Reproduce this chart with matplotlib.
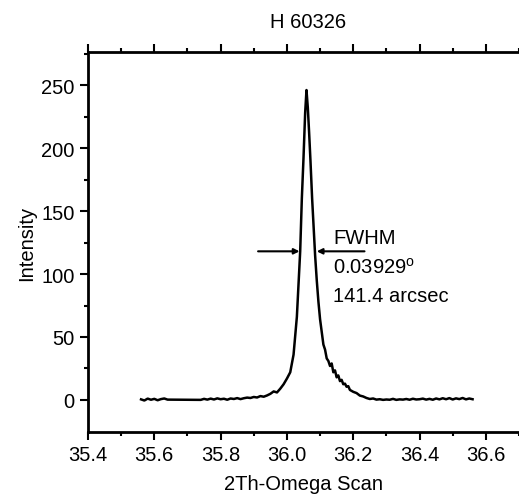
import numpy as np
import matplotlib.pyplot as plt
from matplotlib import rcParams
rcParams.update({"font.family": ["Liberation Sans", "DejaVu Sans"], "font.size": 14.5})

# scan position (2theta, deg) and intensity
two_theta = [
    35.56, 35.57, 35.58, 35.59, 35.60, 35.61, 35.62, 35.63, 35.64,
    35.74,
    35.75, 35.76, 35.77, 35.78, 35.79, 35.80, 35.81, 35.82, 35.83, 35.84,
    35.85, 35.86, 35.87, 35.88, 35.89, 35.90, 35.91, 35.92, 35.93,
    35.94, 35.95, 35.96, 35.97, 35.98, 35.99, 36.00, 36.01, 36.02, 36.03,
    36.04, 36.045, 36.05, 36.055, 36.059, 36.063, 36.067, 36.071, 36.076,
    36.08, 36.085, 36.09, 36.095, 36.10, 36.105, 36.11, 36.115, 36.12,
    36.125, 36.13, 36.135, 36.14, 36.145, 36.15, 36.155, 36.16, 36.165,
    36.17, 36.175, 36.18, 36.185, 36.19, 36.20, 36.21, 36.22, 36.23,
    36.24, 36.25,
    36.26, 36.27, 36.28, 36.29, 36.30, 36.31, 36.32, 36.33, 36.34, 36.35,
    36.36, 36.37, 36.38, 36.39, 36.40, 36.41, 36.42, 36.43, 36.44, 36.45,
    36.46, 36.47, 36.48, 36.49, 36.50, 36.51, 36.52, 36.53, 36.54, 36.55,
    36.56,
]
intensity = [
    0.5, -0.4, 1.1, 0.2, 0.9, -0.2, 0.7, 1.2, 0.3,
    0.1,
    0.9, 0.3, 1.1, 0.4, 1.3, 0.6, 1.0, 0.2, 1.2, 0.8,
    1.5, 0.7, 1.4, 1.9, 1.6, 2.4, 2.0, 3.1, 2.6,
    3.6, 4.9, 6.8, 6.0, 9.0, 12.5, 17.0, 22.0, 36.0, 66.0,
    118.0, 160.0, 192.0, 228.0, 246.0, 232.0, 212.0, 190.0, 160.0,
    140.0, 115.0, 95.0, 78.0, 64.0, 54.0, 44.0, 40.0, 33.0,
    31.0, 27.0, 29.0, 22.0, 23.5, 18.0, 19.5, 15.0, 16.0,
    12.5, 13.0, 10.5, 11.0, 8.0, 6.5, 5.5, 3.5, 2.8,
    1.6, 0.8,
    1.2, 0.3, 0.6, 0.1, 0.4, 0.2, 0.9, 0.1, 0.5, 0.3,
    0.8, 0.2, 1.0, 0.4, 0.6, 1.1, 0.3, 0.9, 0.2, 1.2,
    0.5, 1.4, 0.6, 1.5, 0.4, 1.3, 0.7, 1.6, 0.5, 1.2,
    0.6,
]

# FWHM arrows (tail start, head) at half height
fwhm_y = 118
left_arrow = [35.913, 36.038]
right_arrow = [36.234, 36.090]
fwhm_text = ["FWHM", "0.03929$^\\mathregular{o}$", "141.4 arcsec"]
text_y = [124.5, 101, 78.5]

fig = plt.figure(figsize=(5.19, 5.02), dpi=100)
ax = fig.add_axes([88 / 519, 69 / 502, 1 - 88 / 519, 380 / 502])
ax.plot(two_theta, intensity, color="black", linewidth=1.8)

for tail, head in [left_arrow, right_arrow]:
    ax.annotate("", xy=(head, fwhm_y), xytext=(tail, fwhm_y),
                arrowprops=dict(arrowstyle="-|>", color="black", lw=1.5,
                                mutation_scale=8, shrinkA=0, shrinkB=0))
for label, ty in zip(fwhm_text, text_y):
    ax.text(36.14, ty, label, ha="left", va="baseline")

ax.set_xlim(35.4, 35.4 + 431 / 338.3)
ax.set_ylim(-25.4, 276.2)
ax.set_xticks(np.arange(35.4, 36.61, 0.2))
ax.set_xticks(np.arange(35.5, 36.71, 0.2), minor=True)
ax.set_yticks(np.arange(0, 251, 50))
ax.set_yticks(np.arange(25, 276, 50), minor=True)
ax.xaxis.set_major_formatter(plt.FormatStrFormatter("%.1f"))
ax.tick_params(which="both", direction="out", top=True, width=1.5)
ax.tick_params(which="major", length=6)
ax.tick_params(which="minor", length=3)
ax.tick_params(axis="x", which="both", labeltop=False)
ax.spines["right"].set_visible(False)
for s in ["left", "top", "bottom"]:
    ax.spines[s].set_linewidth(2.0)

ax.set_xlabel("2Th-Omega Scan", labelpad=7)
ax.set_ylabel("Intensity", labelpad=4)
fig.text(308 / 519, 1 - 22 / 502, "H 60326", ha="center", va="center")

fig.savefig("out.png", dpi=100)
